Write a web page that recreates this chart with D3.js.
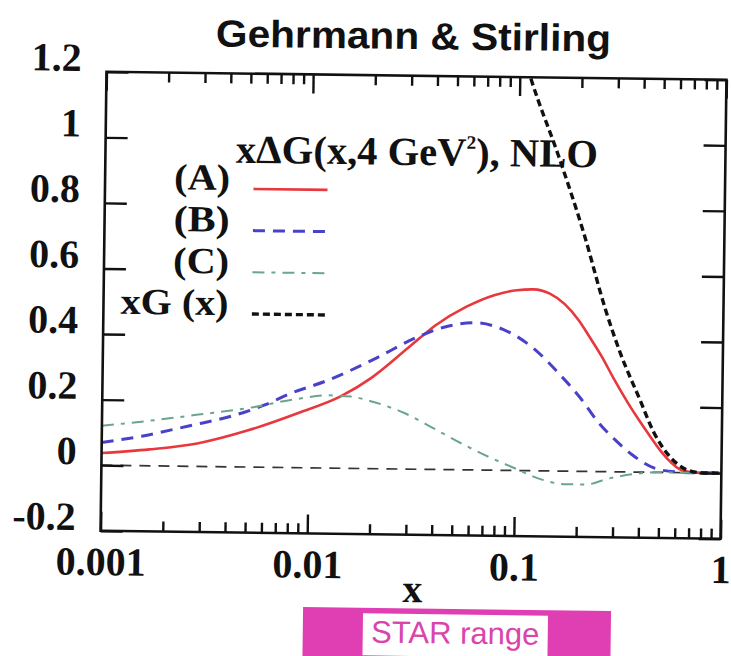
<!DOCTYPE html>
<html>
<head>
<meta charset="utf-8">
<script src="https://cdn.jsdelivr.net/npm/d3@7"></script>
<style>
  body { margin: 0; background: #fff; }
  svg { display: block; }
</style>
</head>
<body>
<svg id="chart" width="731" height="656"></svg>
<script>
// Polarised gluon density x·ΔG(x, Q² = 4 GeV²) at NLO, Gehrmann–Stirling sets A, B, C,
// compared with the unpolarised gluon x·G(x).
const xA  = [0.001, 0.0017, 0.0029, 0.0051, 0.0089, 0.0143, 0.02, 0.03, 0.0406, 0.0568, 0.0776, 0.1, 0.12, 0.145, 0.17, 0.2, 0.226, 0.26, 0.3, 0.35, 0.4, 0.44, 0.5, 0.55, 0.64, 0.75, 1];
const gsA = [0.037, 0.050, 0.070, 0.112, 0.167, 0.220, 0.277, 0.370, 0.440, 0.497, 0.534, 0.550, 0.553, 0.540, 0.510, 0.460, 0.410, 0.350, 0.280, 0.210, 0.155, 0.118, 0.070, 0.040, 0.008, 0.0005, 0];

const xB  = [0.001, 0.00156, 0.00263, 0.00425, 0.00616, 0.00828, 0.012, 0.02, 0.0337, 0.045, 0.063, 0.086, 0.124, 0.161, 0.208, 0.252, 0.304, 0.365, 0.474, 0.6, 0.75, 1];
const gsB = [0.069, 0.090, 0.123, 0.155, 0.191, 0.228, 0.265, 0.330, 0.405, 0.435, 0.449, 0.430, 0.368, 0.298, 0.220, 0.150, 0.098, 0.055, 0.013, 0.002, 0, 0];

const xC  = [0.001, 0.00168, 0.00293, 0.0051, 0.00828, 0.0126, 0.016, 0.0201, 0.029, 0.0415, 0.0568, 0.0775, 0.1, 0.13, 0.178, 0.22, 0.284, 0.369, 0.5, 1];
const gsC = [0.120, 0.137, 0.158, 0.180, 0.207, 0.222, 0.219, 0.205, 0.171, 0.121, 0.076, 0.036, 0.007, -0.023, -0.040, -0.040, -0.021, -0.007, 0, 0];

const xG  = [0.105, 0.114, 0.156, 0.209, 0.27, 0.32, 0.4, 0.47, 0.55, 0.65, 0.75, 0.85, 1];
const glu = [1.26, 1.19, 0.96, 0.725, 0.49, 0.36, 0.22, 0.12, 0.055, 0.015, 0.002, 0, 0];

const xTickValues  = [0.001, 0.01, 0.1, 1];
const xTickLabels  = ["0.001", "0.01", "0.1", "1"];
const yTickValues  = [-0.2, 0, 0.2, 0.4, 0.6, 0.8, 1, 1.2];
const yTickLabels  = ["-0.2", "0", "0.2", "0.4", "0.6", "0.8", "1", "1.2"];
const legendLabels = ["(A)", "(B)", "(C)", "xG (x)"];

const title    = "Gehrmann & Stirling";
const xTitle   = "x";
const bandText = "STAR range";

// ---- layout ----
const frame = { left: 103.5, right: 723.5, top: 75.75, bottom: 534.75 };
const serif = "'Liberation Serif', 'Times New Roman', serif";
const sans  = "'Liberation Sans', Arial, Helvetica, sans-serif";

const styles = [
  { color: "#e8383d", width: 2.6, dash: null },
  { color: "#4a41c9", width: 3,   dash: "12 8" },
  { color: "#6ba58c", width: 2,   dash: "12 7 4 7" },
  { color: "#111111", width: 3.4, dash: "7 4" }
];

const svg = d3.select("#chart");
// the whole sheet sits at a slight clockwise tilt
const root = svg.append("g").attr("transform", "rotate(0.74, 413.5, 305.25)");

const x = d3.scaleLog().domain([0.001, 1]).range([frame.left, frame.right]);
const y = d3.scaleLinear().domain([-0.2, 1.2]).range([frame.bottom, frame.top]);

// title
root.append("text")
  .attr("x", 410).attr("y", 49)
  .attr("text-anchor", "middle")
  .attr("font-family", sans).attr("font-weight", "bold").attr("font-size", 38)
  .attr("textLength", 395).attr("lengthAdjust", "spacingAndGlyphs")
  .attr("fill", "#111")
  .text(title);

// clip for curves
svg.append("defs").append("clipPath").attr("id", "plotclip")
  .append("rect")
  .attr("x", frame.left).attr("y", frame.top)
  .attr("width", frame.right - frame.left).attr("height", frame.bottom - frame.top);

const plot = root.append("g").attr("clip-path", "url(#plotclip)");

// zero reference line
plot.append("line")
  .attr("x1", x(0.001)).attr("x2", x(1))
  .attr("y1", y(0)).attr("y2", y(0))
  .attr("stroke", "#333").attr("stroke-width", 1.7)
  .attr("stroke-dasharray", "11 8");

const line = d3.line()
  .x(d => x(d[0]))
  .y(d => y(d[1]))
  .curve(d3.curveMonotoneX);

const series = [
  d3.zip(xA, gsA),
  d3.zip(xB, gsB),
  d3.zip(xC, gsC),
  d3.zip(xG, glu)
];

series.forEach((pts, i) => {
  const s = styles[i];
  plot.append("path")
    .attr("d", line(pts))
    .attr("fill", "none")
    .attr("stroke", s.color)
    .attr("stroke-width", s.width)
    .attr("stroke-dasharray", s.dash)
    .attr("stroke-linejoin", "round");
});

// ---- axes ----
const minorX = [];
[0.001, 0.01, 0.1].forEach(dec => { for (let k = 2; k <= 9; k++) minorX.push(dec * k); });

function styleAxis(g) {
  g.select(".domain").remove();
  g.selectAll(".tick line").attr("stroke", "#111").attr("stroke-width", 2.4);
}

// bottom
root.append("g").attr("transform", `translate(0,${frame.bottom})`)
  .call(d3.axisBottom(x).tickValues(minorX).tickSize(-10).tickFormat(""))
  .call(styleAxis);
root.append("g").attr("transform", `translate(0,${frame.bottom})`)
  .call(d3.axisBottom(x).tickValues(xTickValues).tickSize(-19).tickPadding(16)
        .tickFormat((d, i) => xTickLabels[i]))
  .call(styleAxis)
  .call(g => g.selectAll("text")
      .attr("font-family", serif).attr("font-weight", "bold").attr("font-size", 40)
      .attr("fill", "#111"));

// top
root.append("g").attr("transform", `translate(0,${frame.top})`)
  .call(d3.axisTop(x).tickValues(minorX).tickSize(-10).tickFormat(""))
  .call(styleAxis);
root.append("g").attr("transform", `translate(0,${frame.top})`)
  .call(d3.axisTop(x).tickValues(xTickValues).tickSize(-19).tickFormat(""))
  .call(styleAxis);

// left
root.append("g").attr("transform", `translate(${frame.left},0)`)
  .call(d3.axisLeft(y).tickValues(yTickValues).tickSize(-22).tickPadding(25)
        .tickFormat((d, i) => yTickLabels[i]))
  .call(styleAxis)
  .call(g => g.selectAll("text")
      .attr("dy", "-1px")
      .attr("font-family", serif).attr("font-weight", "bold").attr("font-size", 40)
      .attr("fill", "#111"));

// right
root.append("g").attr("transform", `translate(${frame.right},0)`)
  .call(d3.axisRight(y).tickValues(yTickValues).tickSize(-22).tickFormat(""))
  .call(styleAxis);

// frame
root.append("rect")
  .attr("x", frame.left).attr("y", frame.top)
  .attr("width", frame.right - frame.left).attr("height", frame.bottom - frame.top)
  .attr("fill", "none").attr("stroke", "#111").attr("stroke-width", 2.6);

// x axis title
root.append("text")
  .attr("x", 416).attr("y", 602)
  .attr("text-anchor", "middle")
  .attr("font-family", serif).attr("font-weight", "bold").attr("font-size", 40)
  .attr("fill", "#111")
  .text(xTitle);

// ---- legend ----
const leg = root.append("g");
const legTitle = leg.append("text")
  .attr("x", 234).attr("y", 165)
  .attr("font-family", serif).attr("font-weight", "bold").attr("font-size", 40)
  .attr("textLength", 362).attr("lengthAdjust", "spacingAndGlyphs")
  .attr("fill", "#111");
legTitle.append("tspan").text("x\u0394G(x,4 GeV");
legTitle.append("tspan").attr("font-size", 19).attr("dy", -17).text("2");
legTitle.append("tspan").attr("dy", 17).text("), NLO");

// rows are tightly stacked; a slightly smaller face stretched to full width keeps them apart
const labelWidths = [56, 56, 56, 108];
legendLabels.forEach((lab, i) => {
  const by = 192.5 + i * 41.7;
  leg.append("text")
    .attr("x", 228.6).attr("y", by)
    .attr("text-anchor", "end")
    .attr("font-family", serif).attr("font-weight", "bold").attr("font-size", 37)
    .attr("textLength", labelWidths[i]).attr("lengthAdjust", "spacingAndGlyphs")
    .attr("fill", "#111")
    .text(lab);
  const s = styles[i];
  leg.append("line")
    .attr("x1", 252).attr("x2", 326)
    .attr("y1", by - 1.5).attr("y2", by - 1.5)
    .attr("stroke", s.color).attr("stroke-width", s.width)
    .attr("stroke-dasharray", s.dash);
});

// ---- STAR acceptance band ----
const band = root.append("g");
band.append("rect")
  .attr("x", 307).attr("y", 608.5).attr("width", 308).attr("height", 60)
  .attr("fill", "#e03fb3");
band.append("rect")
  .attr("x", 367).attr("y", 614).attr("width", 185).attr("height", 42)
  .attr("fill", "#ffffff");
band.append("text")
  .attr("x", 459.5).attr("y", 643)
  .attr("text-anchor", "middle")
  .attr("font-family", sans).attr("font-size", 31)
  .attr("fill", "#d944ad")
  .text(bandText);
</script>
</body>
</html>
